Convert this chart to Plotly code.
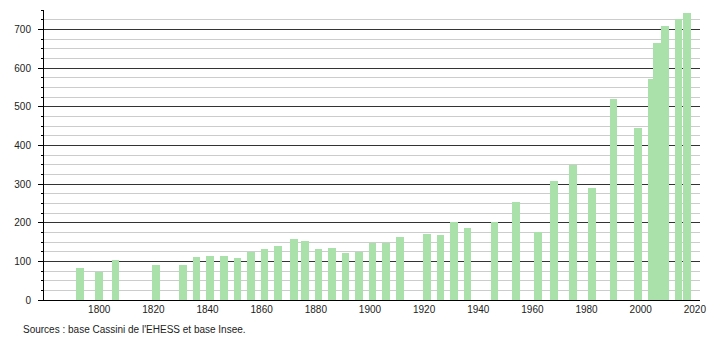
import plotly.graph_objects as go

years = [1793, 1800, 1806, 1821, 1831, 1836, 1841, 1846, 1851, 1856, 1861, 1866,
         1872, 1876, 1881, 1886, 1891, 1896, 1901, 1906, 1911, 1921, 1926, 1931,
         1936, 1946, 1954, 1962, 1968, 1975, 1982, 1990, 1999, 2004, 2006, 2009,
         2014, 2017]
population = [82, 73, 103, 90, 90, 111, 115, 114, 108, 123, 131, 140,
              157, 152, 131, 134, 122, 125, 148, 148, 162, 171, 167, 202,
              185, 202, 253, 176, 308, 349, 290, 521, 444, 572, 664, 709,
              728, 743]
x_ticks = [1800, 1820, 1840, 1860, 1880, 1900, 1920, 1940, 1960, 1980, 2000, 2020]
y_ticks = [0, 100, 200, 300, 400, 500, 600, 700]
source_text = "Sources : base Cassini de l'EHESS et base Insee."

fig = go.Figure()
fig.add_trace(go.Bar(
    x=years, y=population, width=2.8,
    marker=dict(color="rgb(170,225,170)", line=dict(width=0)),
    hoverinfo="x+y",
))

font = dict(family="Liberation Sans, Arial, sans-serif", size=10, color="#222")

fig.update_layout(
    template="none",
    width=710, height=340,
    margin=dict(l=44, r=10, t=10, b=40, pad=0),
    paper_bgcolor="white", plot_bgcolor="white",
    showlegend=False, bargap=0,
    font=font,
    xaxis=dict(
        range=[1779.6, 2021.9],
        automargin=False,
        tickvals=x_ticks, ticktext=[str(t) for t in x_ticks],
        showgrid=False, zeroline=False,
        showline=True, linecolor="black", linewidth=1,
        ticks="", tickfont=font,
    ),
    yaxis=dict(
        range=[0, 750],
        automargin=False,
        tickvals=y_ticks,
        showgrid=True, gridcolor="#333", gridwidth=1,
        zeroline=False,
        showline=True, linecolor="black", linewidth=1,
        ticks="outside", ticklen=5, tickcolor="black", tickwidth=1,
        ticklabelstandoff=5,
        tickfont=font,
        minor=dict(dtick=25, tick0=0, showgrid=True, gridcolor="#ccc", gridwidth=1,
                   ticks="outside", ticklen=2, tickcolor="black"),
    ),
    annotations=[dict(
        text=source_text, xref="paper", yref="paper",
        x=-0.0355, y=-0.1017, xanchor="left", yanchor="middle",
        showarrow=False, font=font,
    )],
)

fig.write_html("out.html")
